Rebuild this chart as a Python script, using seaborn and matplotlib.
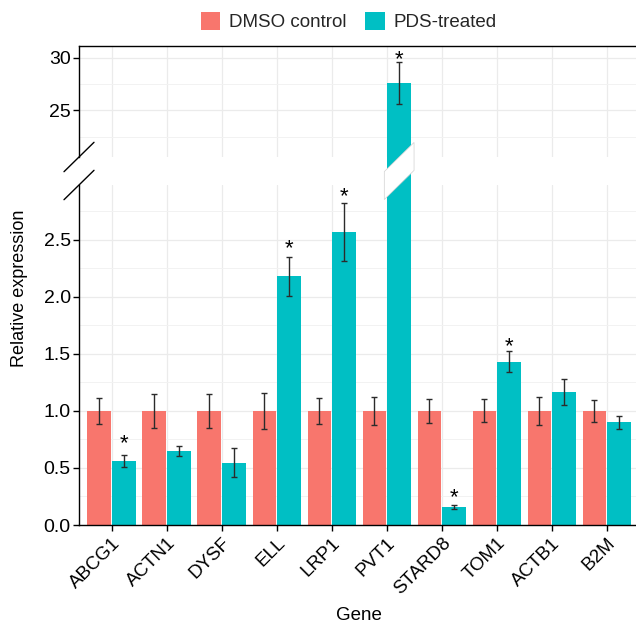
import numpy as np
import pandas as pd
import matplotlib
matplotlib.use("Agg")
import matplotlib.pyplot as plt
import seaborn as sns
from matplotlib.lines import Line2D
from matplotlib.patches import Polygon
from matplotlib.ticker import MultipleLocator, FormatStrFormatter

# ---------------- data ----------------
genes = ["ABCG1", "ACTN1", "DYSF", "ELL", "LRP1", "PVT1", "STARD8", "TOM1", "ACTB1", "B2M"]
groups = ["DMSO control", "PDS-treated"]
dmso_mean = [1.0, 1.0, 1.0, 1.0, 1.0, 1.0, 1.0, 1.0, 1.0, 1.0]
dmso_err = [0.114, 0.147, 0.150, 0.160, 0.115, 0.123, 0.108, 0.100, 0.123, 0.096]
pds_mean = [0.561, 0.649, 0.544, 2.18, 2.57, 27.6, 0.158, 1.43, 1.167, 0.90]
pds_err = [0.050, 0.045, 0.127, 0.170, 0.255, 2.0, 0.015, 0.093, 0.113, 0.058]
star_genes = ["ABCG1", "ELL", "LRP1", "PVT1", "STARD8", "TOM1"]
star_y = [0.775, 2.485, 2.94, 30.47, 0.30, 1.63]
colors = ["#F8766D", "#00BFC4"]

df = pd.DataFrame({
    "Gene": genes * 2,
    "Group": [groups[0]] * len(genes) + [groups[1]] * len(genes),
    "Value": dmso_mean + pds_mean,
})

sns.set_theme(style="white")
plt.rcParams["font.family"] = ["Liberation Sans", "DejaVu Sans"]

W, H = 636, 624
fig = plt.figure(figsize=(W / 100, H / 100), dpi=100)


def fx(px):
    return px / W


def fy(py):
    return 1 - py / H


ax_b = fig.add_axes([fx(79), fy(525), fx(636) - fx(79), fy(185) - fy(525)])
ax_t = fig.add_axes([fx(79), fy(157), fx(636) - fx(79), fy(46) - fy(157)])

for ax in (ax_b, ax_t):
    sns.barplot(data=df, x="Gene", y="Value", hue="Group", order=genes,
                hue_order=groups, palette=colors, width=0.9, gap=0.04,
                errorbar=None, linewidth=0, legend=(ax is ax_b), ax=ax,
                zorder=2, saturation=1)
    conts = list(ax.containers)[:2]
    for cont, errs in zip(conts, [dmso_err, pds_err]):
        xs = [p.get_x() + p.get_width() / 2 for p in cont.patches]
        ys = [p.get_height() for p in cont.patches]
        ax.errorbar(xs, ys, yerr=errs, fmt="none", ecolor="#2b2b2b",
                    elinewidth=1, capsize=2.3, capthick=1, zorder=3)
    ax.set_xlim(-0.595, 9.53)
    ax.set_axisbelow(True)
    ax.grid(which="major", color="#ebebeb", linewidth=0.9)
    ax.grid(which="minor", axis="y", color="#f2f2f2", linewidth=0.7)
    ax.set_xlabel("")
    ax.set_ylabel("")
    ax.spines["right"].set_visible(False)
    for s in ax.spines.values():
        s.set_color("black")
        s.set_linewidth(1)
    ax.tick_params(axis="y", which="major", left=True, direction="out",
                   length=4, width=1, color="black", labelsize=14, pad=2,
                   labelcolor="black")
    ax.tick_params(axis="y", which="minor", left=False, length=0)

# bottom panel
ax_b.set_ylim(0, 2.98)
ax_b.yaxis.set_major_locator(MultipleLocator(0.5))
ax_b.yaxis.set_minor_locator(MultipleLocator(0.25))
ax_b.yaxis.set_major_formatter(FormatStrFormatter("%.1f"))
ax_b.spines["top"].set_visible(False)
ax_b.tick_params(axis="x", bottom=True, direction="out", length=4, width=1,
                 color="black", labelsize=13.5, pad=3, labelcolor="black")
for lab in ax_b.get_xticklabels():
    lab.set_rotation(45)
    lab.set_ha("right")
    lab.set_va("top")
    lab.set_rotation_mode("anchor")

# x label placed in the figure's bottom strip
fig.text(fx(359), fy(616), "Gene", ha="center", va="center",
         fontsize=13.5, color="black")

# top panel
ax_t.set_ylim(20.6, 31.1)
ax_t.yaxis.set_major_locator(MultipleLocator(5))
ax_t.yaxis.set_minor_locator(MultipleLocator(2.5))
ax_t.spines["bottom"].set_visible(False)
ax_t.spines["top"].set_visible(True)
ax_t.tick_params(axis="x", bottom=False, labelbottom=False, length=0)

# let the big PVT1 bar run through the break
big = ax_t.containers[1].patches[genes.index("PVT1")]
big.set_clip_on(False)

# stars
for g, y in zip(star_genes, star_y):
    i = genes.index(g)
    ax = ax_t if y > 10 else ax_b
    p = ax.containers[1].patches[i]
    xc = p.get_x() + p.get_width() / 2
    ax.annotate("*", (xc, y), xytext=(0, -0.57 * 16), textcoords="offset points",
                ha="center", va="baseline", fontsize=16, color="black",
                annotation_clip=False, zorder=5)

# legend
handles, labels = ax_b.get_legend_handles_labels()
ax_b.get_legend().remove()
fig.legend(handles, labels, loc="center", bbox_to_anchor=(fx(348.5), fy(21.7)),
           ncol=2, frameon=False, fontsize=13.5, handlelength=1.05,
           handleheight=1.05, handletextpad=0.45, columnspacing=1.0,
           borderaxespad=0, borderpad=0)

# y label
fig.text(fx(20), fy(288), "Relative expression", rotation=90, ha="center",
         va="center", fontsize=13, color="black")

# break marks
pb = ax_b.get_position()
pt = ax_t.get_position()
dx, dy = 15 / W, 14.7 / H
x0 = pb.x0
for yy in (pt.y0, pb.y1):
    fig.add_artist(Line2D([x0 - dx, x0 + dx], [yy - dy, yy + dy],
                          transform=fig.transFigure, color="black", lw=1,
                          zorder=6))

# white slash across the PVT1 bar
pbot = ax_b.containers[1].patches[genes.index("PVT1")]
inv = fig.transFigure.inverted()
xl = inv.transform(ax_b.transData.transform((pbot.get_x(), 0)))[0] - 3 / W
xr = inv.transform(ax_b.transData.transform((pbot.get_x() + pbot.get_width(), 0)))[0] + 3 / W
xc = (xl + xr) / 2
slope = dy / dx


def line_y(x, y0):
    return y0 + (x - xc) * slope


poly = Polygon([(xl, line_y(xl, pt.y0)), (xr, line_y(xr, pt.y0)),
                (xr, line_y(xr, pb.y1)), (xl, line_y(xl, pb.y1))],
               closed=True, transform=fig.transFigure, facecolor="white",
               edgecolor="#d0d0d0", lw=0.5, zorder=5)
fig.add_artist(poly)

fig.savefig("out.png", dpi=100)
